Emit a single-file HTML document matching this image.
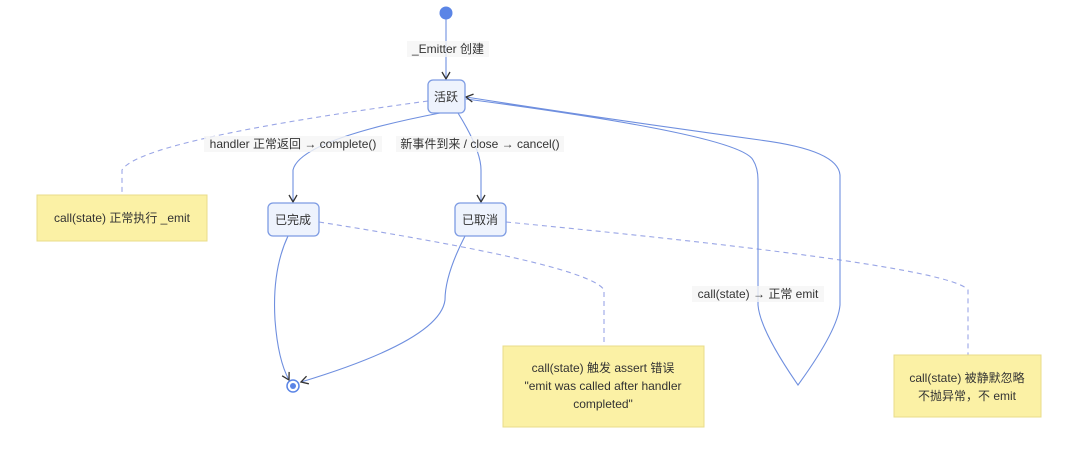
<!DOCTYPE html>
<html><head><meta charset="utf-8"><style>
body{margin:0;width:1080px;height:456px;background:#fff;overflow:hidden;font-family:"Liberation Sans","Noto Sans CJK SC",sans-serif;}
svg text{font-family:"Liberation Sans","Noto Sans CJK SC",sans-serif;font-size:12px;fill:#333;}
</style></head><body>
<svg width="1080" height="456" viewBox="0 0 1080 456">
<defs><marker id="a" markerWidth="10" markerHeight="10" refX="8" refY="5" orient="auto" markerUnits="userSpaceOnUse"><path d="M1,1 L8,5 L1,9" fill="none" stroke="#333" stroke-width="1.3"/></marker></defs>
<g fill="none" stroke="#9aa6e6" stroke-width="1.1" stroke-dasharray="5,4">
<path d="M428,101 Q140,140 122,170 L122,195"/>
<path d="M319,222 Q590,265 604,290 L604,346"/>
<path d="M506,222 Q950,265 968,290 L968,355"/>
</g>
<g fill="none" stroke="#6f8fdf" stroke-width="1.1">
<line x1="446" y1="19" x2="446" y2="79" marker-end="url(#a)"/>
<path d="M440,113 Q300,140 293,170 L293,202" marker-end="url(#a)"/>
<path d="M458,113 Q481,150 481,170 L481,202" marker-end="url(#a)"/>
<path d="M288,236 Q272,270 275,320 Q278,360 289,380" marker-end="url(#a)"/>
<path d="M465,236 Q445,275 445,300 Q440,340 301,382" marker-end="url(#a)"/>
<path d="M466,99 Q740,135 753,160 Q758,168 758,180 L758,305 Q760,330 798,385 Q838,330 840,305 L840,175 Q838,150 760,140 Q600,118 466,97" marker-end="url(#a)"/>
</g>
<circle cx="446" cy="13" r="6.5" fill="#5b85e6"/>
<circle cx="293" cy="386" r="6" fill="#fff" stroke="#5b85e6" stroke-width="1.5"/>
<circle cx="293" cy="386" r="3" fill="#5b85e6"/>
<g fill="#eef3fd" stroke="#7d9be3" stroke-width="1.3">
<rect x="428" y="80" width="37" height="33" rx="5"/>
<rect x="268" y="203" width="51" height="33" rx="5"/>
<rect x="455" y="203" width="51" height="33" rx="5"/>
</g>
<g fill="#fbf1a5" stroke="#e8dc8a">
<rect x="37" y="195" width="170" height="46"/>
<rect x="503" y="346" width="201" height="81"/>
<rect x="894" y="355" width="147" height="62"/>
</g>
<g text-anchor="middle">
<rect x="407" y="41" width="82" height="16" fill="#f5f5f5" opacity=".8"/>
<text x="448" y="53">_Emitter 创建</text>
<text x="446" y="101">活跃</text>
<text x="293" y="224">已完成</text>
<text x="480" y="224">已取消</text>
<rect x="204" y="136" width="178" height="16" fill="#f5f5f5" opacity=".8"/>
<text x="293" y="148">handler 正常返回 → complete()</text>
<rect x="396" y="136" width="168" height="16" fill="#f5f5f5" opacity=".8"/>
<text x="480" y="148">新事件到来 / close → cancel()</text>
<rect x="692" y="286" width="132" height="16" fill="#f5f5f5" opacity=".8"/>
<text x="758" y="298">call(state) → 正常 emit</text>
<text x="122" y="222">call(state) 正常执行 _emit</text>
<text x="603" y="372">call(state) 触发 assert 错误</text>
<text x="603" y="390">"emit was called after handler</text>
<text x="603" y="408">completed"</text>
<text x="967" y="382">call(state) 被静默忽略</text>
<text x="967" y="400">不抛异常，不 emit</text>
</g>
</svg>
</body></html>
